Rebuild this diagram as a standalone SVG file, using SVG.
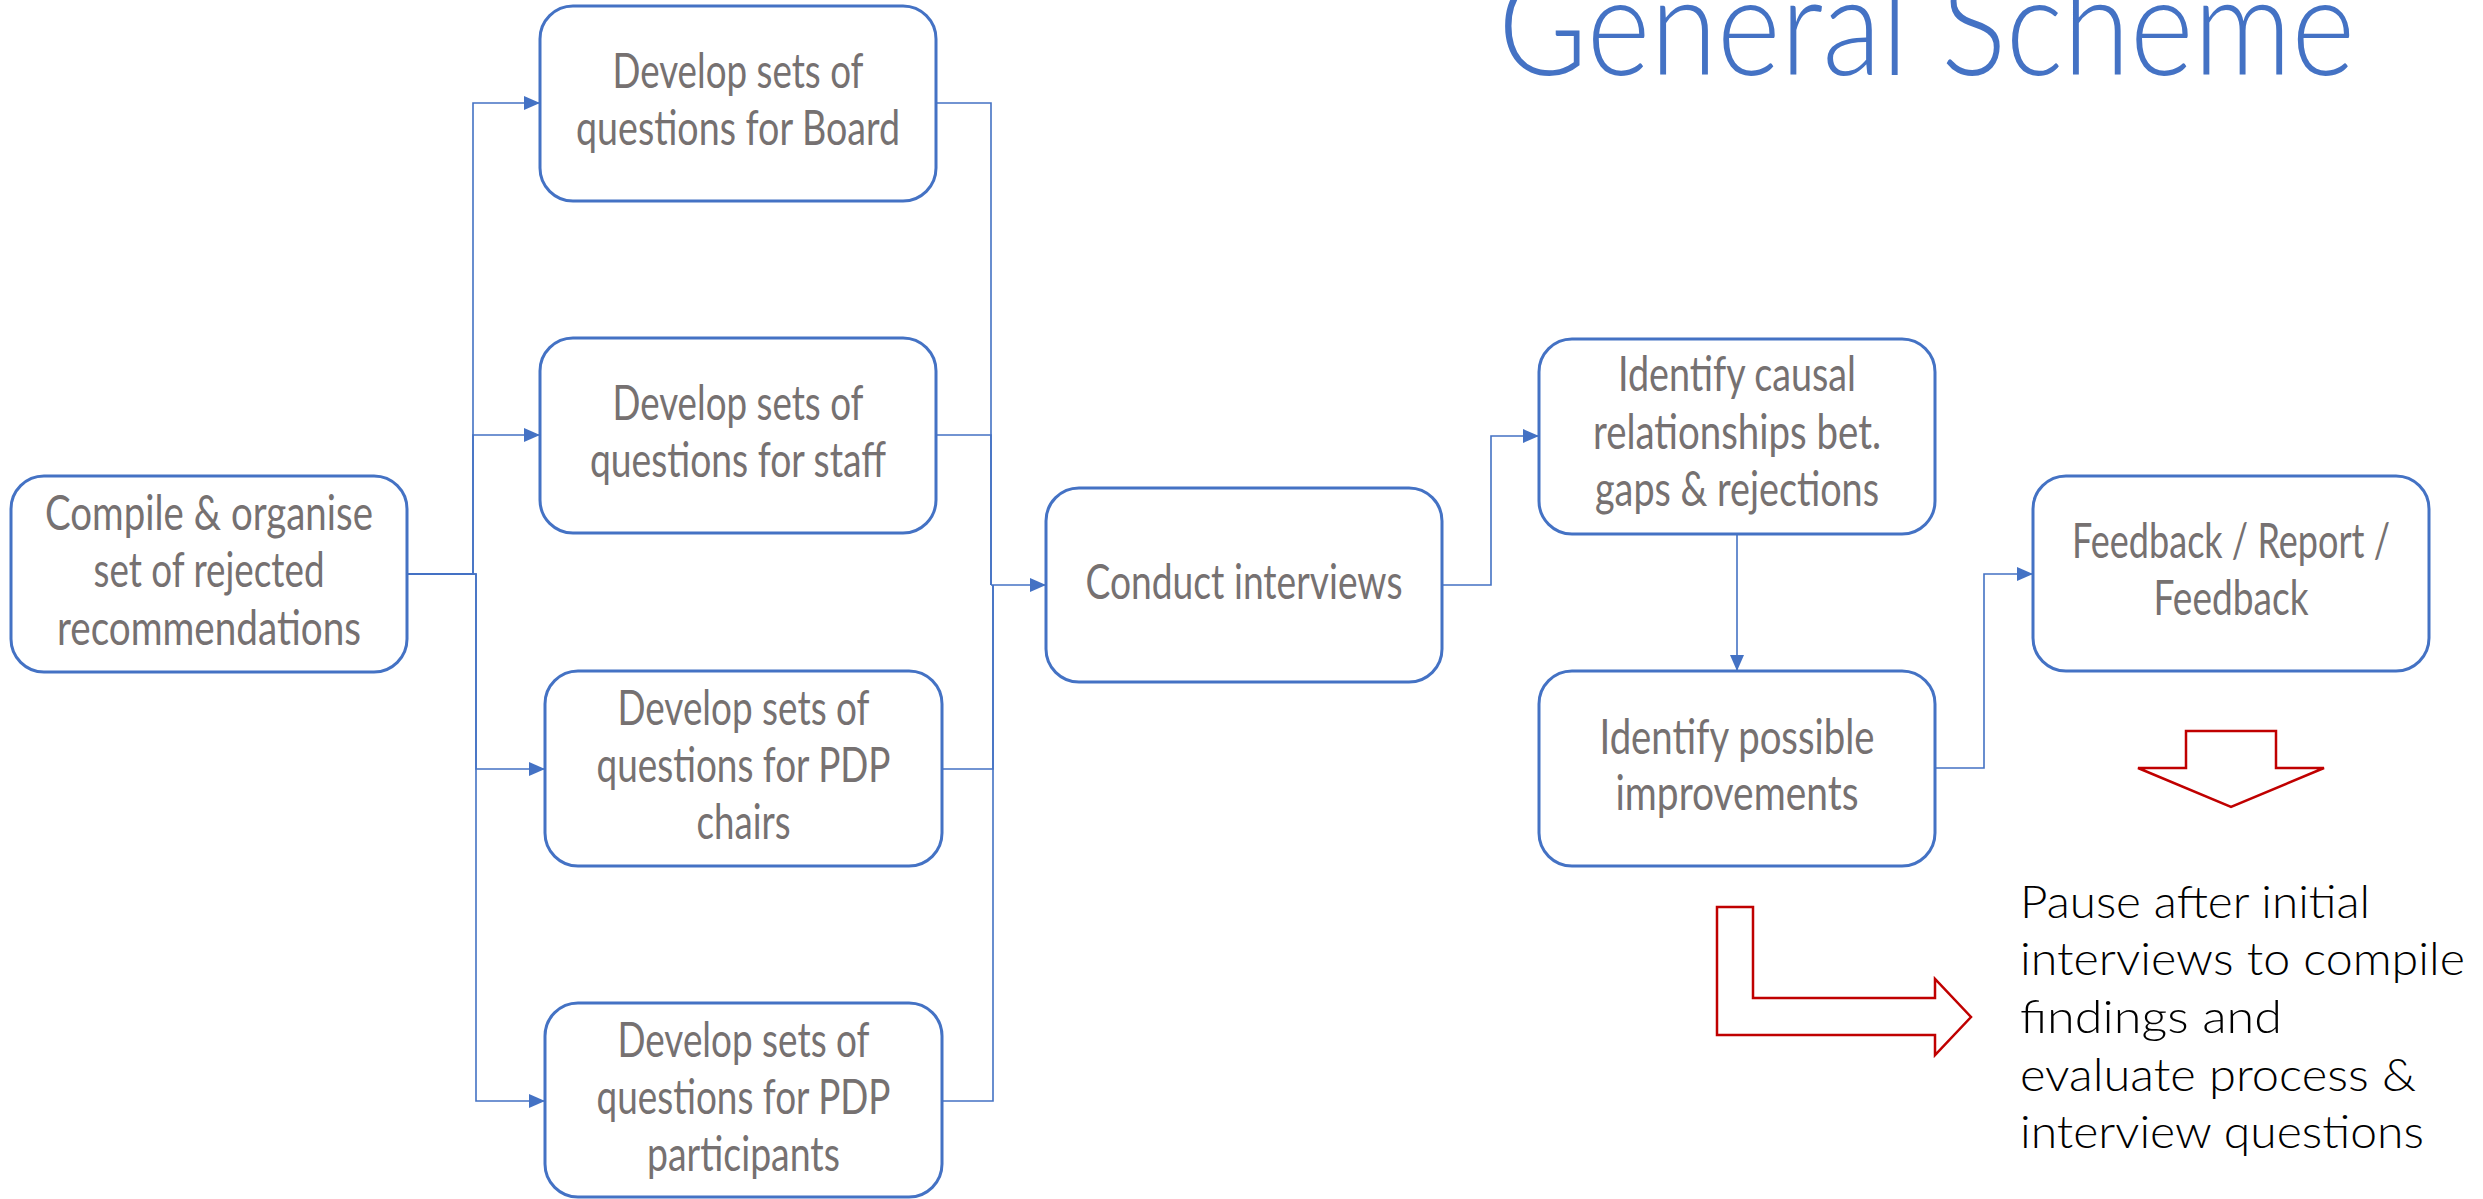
<svg xmlns="http://www.w3.org/2000/svg" width="2483" height="1199" viewBox="0 0 2483 1199">
<defs>
<style>
.box{fill:#FFFFFF;stroke:#4472C4;stroke-width:3}
.lbl{font-family:Lato,"Open Sans","Liberation Sans",sans-serif;font-size:49px;fill:#767171;text-anchor:middle}
.con{fill:none;stroke:#4472C4;stroke-width:1.6}
.red{fill:#FFFFFF;stroke:#C00000;stroke-width:2.5;stroke-linejoin:miter}
.note{font-family:Lato,"Open Sans","Liberation Sans",sans-serif;font-size:46px;font-weight:300;fill:#000000}
.title{font-family:Lato,"Open Sans","Liberation Sans",sans-serif;font-size:138px;font-weight:300;fill:#4472C4}
</style>
<marker id="ah" viewBox="0 0 16 14" refX="16" refY="7" markerWidth="16" markerHeight="14" markerUnits="userSpaceOnUse" orient="auto">
<path d="M0,0 L16,7 L0,14 Z" fill="#4472C4"/>
</marker>
</defs>
<rect width="2483" height="1199" fill="#FFFFFF"/>
<text class="title" x="1498" y="75" textLength="857" lengthAdjust="spacingAndGlyphs">General Scheme</text>
<g id="connectors">
<path class="con" d="M407,574 H473 V103 H540" marker-end="url(#ah)"/>
<path class="con" d="M407,574 H473 V435 H540" marker-end="url(#ah)"/>
<path class="con" d="M407,574 H476 V769 H545" marker-end="url(#ah)"/>
<path class="con" d="M407,574 H476 V1101 H545" marker-end="url(#ah)"/>
<path class="con" d="M936,103 H991 V585"/>
<path class="con" d="M936,435 H991 V585"/>
<path class="con" d="M942,769 H993 V585"/>
<path class="con" d="M942,1101 H993 V585"/>
<path class="con" d="M991,585 H1046" marker-end="url(#ah)"/>
<path class="con" d="M1442,585 H1491 V436 H1539" marker-end="url(#ah)"/>
<path class="con" d="M1737,534 V671" marker-end="url(#ah)"/>
<path class="con" d="M1935,768 H1984 V574 H2033" marker-end="url(#ah)"/>
</g>
<g id="compile">
<rect class="box" x="11" y="476" width="396" height="196" rx="33"/>
<text class="lbl" x="209" y="530" textLength="328" lengthAdjust="spacingAndGlyphs">Compile &amp; organise</text>
<text class="lbl" x="209" y="587" textLength="231" lengthAdjust="spacingAndGlyphs">set of rejected</text>
<text class="lbl" x="209" y="645" textLength="304" lengthAdjust="spacingAndGlyphs">recommendations</text>
</g>
<g id="board">
<rect class="box" x="540" y="6" width="396" height="195" rx="33"/>
<text class="lbl" x="738" y="88" textLength="251" lengthAdjust="spacingAndGlyphs">Develop sets of</text>
<text class="lbl" x="738" y="145" textLength="324" lengthAdjust="spacingAndGlyphs">questions for Board</text>
</g>
<g id="staff">
<rect class="box" x="540" y="338" width="396" height="195" rx="33"/>
<text class="lbl" x="738" y="420" textLength="251" lengthAdjust="spacingAndGlyphs">Develop sets of</text>
<text class="lbl" x="738" y="477" textLength="296" lengthAdjust="spacingAndGlyphs">questions for staff</text>
</g>
<g id="chairs">
<rect class="box" x="545" y="671" width="397" height="195" rx="33"/>
<text class="lbl" x="743.5" y="725" textLength="252" lengthAdjust="spacingAndGlyphs">Develop sets of</text>
<text class="lbl" x="743.5" y="782" textLength="294" lengthAdjust="spacingAndGlyphs">questions for PDP</text>
<text class="lbl" x="743.5" y="839" textLength="94" lengthAdjust="spacingAndGlyphs">chairs</text>
</g>
<g id="participants">
<rect class="box" x="545" y="1003" width="397" height="194" rx="33"/>
<text class="lbl" x="743.5" y="1057" textLength="252" lengthAdjust="spacingAndGlyphs">Develop sets of</text>
<text class="lbl" x="743.5" y="1114" textLength="294" lengthAdjust="spacingAndGlyphs">questions for PDP</text>
<text class="lbl" x="743.5" y="1171" textLength="193" lengthAdjust="spacingAndGlyphs">participants</text>
</g>
<g id="conduct">
<rect class="box" x="1046" y="488" width="396" height="194" rx="33"/>
<text class="lbl" x="1244" y="599" textLength="317" lengthAdjust="spacingAndGlyphs">Conduct interviews</text>
</g>
<g id="causal">
<rect class="box" x="1539" y="339" width="396" height="195" rx="33"/>
<text class="lbl" x="1737" y="391" textLength="238" lengthAdjust="spacingAndGlyphs">Identify causal</text>
<text class="lbl" x="1737" y="449" textLength="288" lengthAdjust="spacingAndGlyphs">relationships bet.</text>
<text class="lbl" x="1737" y="506" textLength="284" lengthAdjust="spacingAndGlyphs">gaps &amp; rejections</text>
</g>
<g id="possible">
<rect class="box" x="1539" y="671" width="396" height="195" rx="33"/>
<text class="lbl" x="1737" y="754" textLength="275" lengthAdjust="spacingAndGlyphs">Identify possible</text>
<text class="lbl" x="1737" y="810" textLength="243" lengthAdjust="spacingAndGlyphs">improvements</text>
</g>
<g id="feedback">
<rect class="box" x="2033" y="476" width="396" height="195" rx="33"/>
<text class="lbl" x="2231" y="558" textLength="318" lengthAdjust="spacingAndGlyphs">Feedback / Report /</text>
<text class="lbl" x="2231" y="615" textLength="155" lengthAdjust="spacingAndGlyphs">Feedback</text>
</g>
<g id="down-arrow">
<polygon class="red" points="2186,731 2276,731 2276,768 2324,768 2231,807 2138,768 2186,768"/>
</g>
<g id="bent-arrow">
<polygon class="red" points="1717,907 1753,907 1753,998 1935,998 1935,979 1971,1017 1935,1055 1935,1035 1717,1035"/>
</g>
<g id="pause-note">
<text class="note" x="2020" y="918" textLength="350" lengthAdjust="spacingAndGlyphs">Pause after initial</text>
<text class="note" x="2020" y="975" textLength="445" lengthAdjust="spacingAndGlyphs">interviews to compile</text>
<text class="note" x="2020" y="1033" textLength="262" lengthAdjust="spacingAndGlyphs">findings and</text>
<text class="note" x="2020" y="1091" textLength="396" lengthAdjust="spacingAndGlyphs">evaluate process &amp;</text>
<text class="note" x="2020" y="1148" textLength="404" lengthAdjust="spacingAndGlyphs">interview questions</text>
</g>
</svg>
